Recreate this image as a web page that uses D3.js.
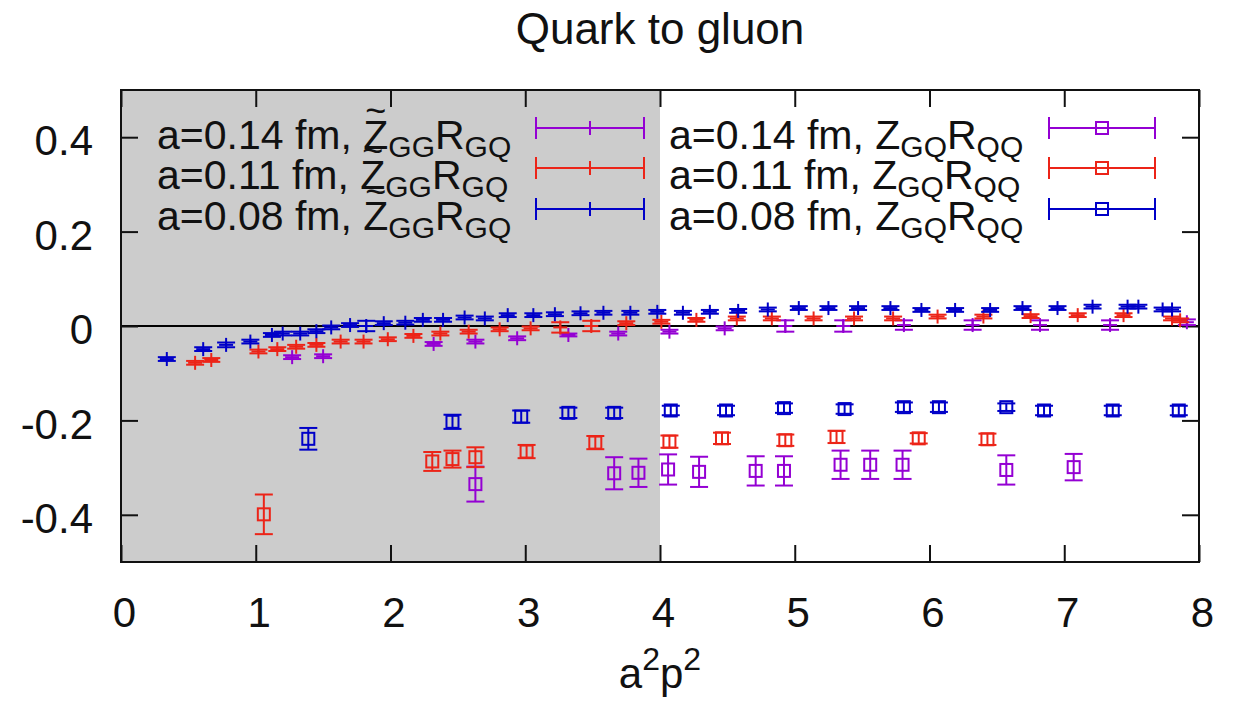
<!DOCTYPE html>
<html>
<head>
<meta charset="utf-8">
<script src="https://cdn.jsdelivr.net/npm/d3@7"></script>
<style>
	body { margin: 0; background: #ffffff; }
	text { font-family: "Liberation Sans", Arial, Helvetica, sans-serif; fill: #111111; }
</style>
</head>
<body>
<div id="vis1"></div>
<script>
// Quark to gluon mixing plot, gnuplot look

const FRAME_HEIGHT = 703;
const FRAME_WIDTH = 1249;
const MARGINS = {left: 121, right: 50, top: 90, bottom: 141};

const VIS_HEIGHT = FRAME_HEIGHT - MARGINS.top - MARGINS.bottom;
const VIS_WIDTH = FRAME_WIDTH - MARGINS.left - MARGINS.right;

// axes / ticks
const X_TICKS = [0, 1, 2, 3, 4, 5, 6, 7, 8];
const X_TICK_LABELS = ["0", "1", "2", "3", "4", "5", "6", "7", "8"];
const Y_TICKS = [-0.4, -0.2, 0, 0.2, 0.4];
const Y_TICK_LABELS = ["-0.4", "-0.2", "0", "0.2", "0.4"];
const SHADE_END = 4;

const SPACINGS = ["0.14", "0.11", "0.08"];

// Z~GG RGQ, "+" points
const PLUS_014_X = [1.27, 1.50, 2.32, 2.63, 2.94, 3.32, 3.69, 4.07, 4.48, 4.93, 5.36, 5.81, 6.32, 6.82, 7.34, 7.91];
const PLUS_014_Y = [-0.066, -0.064, -0.038, -0.033, -0.026, -0.019, -0.016, -0.012, -0.005, 0.000, 0.000, 0.002, 0.002, 0.002, 0.002, 0.008];
const PLUS_014_E = [0.004, 0.004, 0.004, 0.004, 0.004, 0.003, 0.004, 0.004, 0.004, 0.012, 0.012, 0.010, 0.010, 0.010, 0.010, 0.006];

const PLUS_011_X = [0.55, 0.67, 1.02, 1.16, 1.30, 1.45, 1.63, 1.80, 1.98, 2.17, 2.37, 2.58, 2.81, 3.04, 3.26, 3.49, 3.75, 4.01, 4.27, 4.57, 4.83, 5.14, 5.44, 5.73, 6.06, 6.40, 6.75, 7.10, 7.44, 7.80, 7.86];
const PLUS_011_Y = [-0.078, -0.072, -0.054, -0.049, -0.044, -0.040, -0.033, -0.033, -0.028, -0.021, -0.016, -0.012, -0.007, -0.005, -0.003, 0.000, 0.006, 0.009, 0.013, 0.016, 0.016, 0.016, 0.016, 0.016, 0.020, 0.020, 0.021, 0.023, 0.023, 0.016, 0.012];
const PLUS_011_E = [0.004, 0.004, 0.004, 0.004, 0.004, 0.004, 0.004, 0.004, 0.004, 0.004, 0.004, 0.004, 0.004, 0.004, 0.011, 0.011, 0.004, 0.004, 0.004, 0.004, 0.004, 0.004, 0.004, 0.004, 0.004, 0.004, 0.004, 0.004, 0.004, 0.004, 0.004];

const PLUS_008_X = [0.34, 0.61, 0.78, 0.96, 1.12, 1.20, 1.33, 1.45, 1.56, 1.70, 1.82, 1.95, 2.11, 2.24, 2.39, 2.55, 2.70, 2.87, 3.06, 3.22, 3.41, 3.58, 3.78, 3.98, 4.17, 4.37, 4.58, 4.80, 5.03, 5.25, 5.47, 5.71, 5.94, 6.19, 6.45, 6.69, 6.95, 7.21, 7.47, 7.55, 7.73, 7.80];
const PLUS_008_Y = [-0.070, -0.049, -0.040, -0.033, -0.019, -0.016, -0.016, -0.011, -0.003, 0.002, 0.000, 0.006, 0.007, 0.013, 0.013, 0.018, 0.016, 0.023, 0.023, 0.025, 0.027, 0.028, 0.028, 0.030, 0.028, 0.030, 0.032, 0.035, 0.038, 0.038, 0.038, 0.038, 0.034, 0.034, 0.034, 0.038, 0.038, 0.041, 0.041, 0.041, 0.035, 0.035];
const PLUS_008_E = [0.004, 0.004, 0.005, 0.004, 0.004, 0.004, 0.004, 0.004, 0.004, 0.004, 0.011, 0.004, 0.004, 0.004, 0.004, 0.004, 0.004, 0.004, 0.004, 0.004, 0.004, 0.004, 0.004, 0.004, 0.004, 0.004, 0.004, 0.004, 0.004, 0.004, 0.004, 0.004, 0.004, 0.004, 0.004, 0.004, 0.004, 0.004, 0.004, 0.004, 0.004, 0.004];

// ZGQ RQQ, square points
const SQ_014_X = [2.63, 3.66, 3.84, 4.06, 4.29, 4.71, 4.92, 5.34, 5.56, 5.80, 6.57, 7.07];
const SQ_014_Y = [-0.335, -0.312, -0.311, -0.304, -0.309, -0.307, -0.307, -0.294, -0.294, -0.294, -0.305, -0.299];
const SQ_014_E = [0.037, 0.034, 0.030, 0.032, 0.032, 0.031, 0.031, 0.030, 0.030, 0.030, 0.031, 0.028];

const SQ_011_X = [1.06, 2.31, 2.46, 2.63, 3.01, 3.52, 4.07, 4.46, 4.93, 5.31, 5.92, 6.43];
const SQ_011_Y = [-0.399, -0.287, -0.282, -0.278, -0.266, -0.247, -0.245, -0.238, -0.242, -0.235, -0.238, -0.240];
const SQ_011_E = [0.042, 0.020, 0.018, 0.021, 0.014, 0.014, 0.013, 0.012, 0.012, 0.013, 0.011, 0.012];

const SQ_008_X = [1.39, 2.46, 2.97, 3.32, 3.66, 4.08, 4.49, 4.92, 5.37, 5.81, 6.07, 6.57, 6.85, 7.36, 7.85];
const SQ_008_Y = [-0.239, -0.203, -0.192, -0.184, -0.184, -0.179, -0.179, -0.174, -0.176, -0.172, -0.172, -0.172, -0.179, -0.179, -0.179];
const SQ_008_E = [0.023, 0.015, 0.013, 0.011, 0.011, 0.010, 0.010, 0.010, 0.010, 0.010, 0.010, 0.008, 0.010, 0.010, 0.010];

const PURPLE = "#9400d3";
const RED = "#ec2418";
const BLUE = "#0000c8";

const LINE_W = 2;
const TICK_LEN = 17;
const CAP = 9;        // half width of errorbar caps
const PLUS_ARM = 7;
const SQ_HALF = 6;

// series table (order = gnuplot plot order)
const SERIES = [
	{x: PLUS_014_X, y: PLUS_014_Y, e: PLUS_014_E, color: PURPLE, mark: "plus"},
	{x: PLUS_011_X, y: PLUS_011_Y, e: PLUS_011_E, color: RED, mark: "plus"},
	{x: PLUS_008_X, y: PLUS_008_Y, e: PLUS_008_E, color: BLUE, mark: "plus"},
	{x: SQ_014_X, y: SQ_014_Y, e: SQ_014_E, color: PURPLE, mark: "square"},
	{x: SQ_011_X, y: SQ_011_Y, e: SQ_011_E, color: RED, mark: "square"},
	{x: SQ_008_X, y: SQ_008_Y, e: SQ_008_E, color: BLUE, mark: "square"}
];

// scales
const X_SCALE = d3.scaleLinear()
					.domain([0, 8])
					.range([0, VIS_WIDTH]);

const Y_SCALE = d3.scaleLinear()
					.domain([-0.5, 0.5])
					.range([VIS_HEIGHT, 0]);

const FRAME =
d3.select("#vis1")
	.append("svg")
		.attr("height", FRAME_HEIGHT)
		.attr("width", FRAME_WIDTH)
		.attr("class", "frame");

// title
FRAME.append("text")
		.attr("x", MARGINS.left + VIS_WIDTH / 2)
		.attr("y", 44)
		.attr("text-anchor", "middle")
		.style("font-size", "44px")
		.text("Quark to gluon");

const PLOT = FRAME.append("g")
		.attr("transform", "translate(" + MARGINS.left + "," + MARGINS.top + ")");

// shaded region a^2p^2 < 4
PLOT.append("rect")
		.attr("x", X_SCALE(0))
		.attr("y", 0)
		.attr("width", X_SCALE(SHADE_END) - X_SCALE(0))
		.attr("height", VIS_HEIGHT)
		.attr("fill", "#cccccc");

// zero line
PLOT.append("line")
		.attr("x1", X_SCALE(0))
		.attr("x2", X_SCALE(8))
		.attr("y1", Y_SCALE(0))
		.attr("y2", Y_SCALE(0))
		.attr("stroke", "#000")
		.attr("stroke-width", LINE_W);

// axes, ticks pointing inwards on all four sides
function styleAxis(g) {
	g.select(".domain").remove();
	g.selectAll(".tick line").attr("stroke", "#111").attr("stroke-width", LINE_W);
	g.selectAll(".tick text")
		.style("font-size", "42px")
		.attr("fill", "#111");
}

PLOT.append("g")
		.attr("transform", "translate(0," + VIS_HEIGHT + ")")
		.call(d3.axisBottom(X_SCALE).tickValues(X_TICKS).tickSize(-TICK_LEN)
				.tickFormat((d, i) => X_TICK_LABELS[i]))
		.call(styleAxis)
		.selectAll(".tick text")
			.attr("y", 65)
			.attr("dy", 0)
			.attr("x", 3);

PLOT.append("g")
		.call(d3.axisTop(X_SCALE).tickValues(X_TICKS).tickSize(-TICK_LEN).tickFormat(""))
		.call(styleAxis);

PLOT.append("g")
		.call(d3.axisLeft(Y_SCALE).tickValues(Y_TICKS).tickSize(-TICK_LEN).tickPadding(28)
				.tickFormat((d, i) => Y_TICK_LABELS[i]))
		.call(styleAxis)
		.selectAll(".tick text")
			.attr("dy", "0.42em");

PLOT.append("g")
		.attr("transform", "translate(" + VIS_WIDTH + ",0)")
		.call(d3.axisRight(Y_SCALE).tickValues(Y_TICKS).tickSize(-TICK_LEN).tickFormat(""))
		.call(styleAxis);

// x label a^2p^2
const XLAB = FRAME.append("text")
		.attr("x", MARGINS.left + VIS_WIDTH / 2)
		.attr("y", 688)
		.attr("text-anchor", "middle")
		.style("font-size", "42px");
XLAB.append("tspan").text("a");
XLAB.append("tspan").attr("dy", -18).style("font-size", "32px").text("2");
XLAB.append("tspan").attr("dy", 18).text("p");
XLAB.append("tspan").attr("dy", -18).style("font-size", "32px").text("2");

// marker helpers
function drawMarker(sel, mark) {
	if (mark === "plus") {
		sel.append("line").attr("x1", -PLUS_ARM).attr("x2", PLUS_ARM).attr("y1", 0).attr("y2", 0);
		sel.append("line").attr("x1", 0).attr("x2", 0).attr("y1", -PLUS_ARM).attr("y2", PLUS_ARM);
	} else {
		sel.append("rect")
			.attr("x", -SQ_HALF).attr("y", -SQ_HALF)
			.attr("width", 2 * SQ_HALF).attr("height", 2 * SQ_HALF);
	}
}

// data with y errorbars
SERIES.forEach((s) => {
	const pts = s.x.map((x, i) => ({x: x, y: s.y[i], e: s.e[i]}));
	const g = PLOT.append("g")
		.attr("stroke", s.color)
		.attr("stroke-width", LINE_W)
		.attr("fill", "none");

	const pt = g.selectAll(".pt")
		.data(pts)
		.enter()
		.append("g")
			.attr("class", "pt")
			.attr("transform", (d) => "translate(" + X_SCALE(d.x) + ",0)");

	pt.append("line")
		.attr("x1", 0).attr("x2", 0)
		.attr("y1", (d) => Y_SCALE(d.y - d.e))
		.attr("y2", (d) => Y_SCALE(d.y + d.e));
	pt.append("line")
		.attr("x1", -CAP).attr("x2", CAP)
		.attr("y1", (d) => Y_SCALE(d.y - d.e))
		.attr("y2", (d) => Y_SCALE(d.y - d.e));
	pt.append("line")
		.attr("x1", -CAP).attr("x2", CAP)
		.attr("y1", (d) => Y_SCALE(d.y + d.e))
		.attr("y2", (d) => Y_SCALE(d.y + d.e));

	pt.append("g")
		.attr("transform", (d) => "translate(0," + Y_SCALE(d.y) + ")")
		.call(drawMarker, s.mark);
});

// frame border
PLOT.append("rect")
		.attr("x", 0)
		.attr("y", 0)
		.attr("width", VIS_WIDTH)
		.attr("height", VIS_HEIGHT)
		.attr("fill", "none")
		.attr("stroke", "#111")
		.attr("stroke-width", LINE_W);

// legend
const LEG_ROWS = [128, 168, 209];
const LEG_COLS = [
	{textX: 157, lineX1: 536, lineX2: 644, z: "Z", zs: "GG", tilde: true, r: "R", rs: "GQ", first: 0},
	{textX: 669, lineX1: 1049, lineX2: 1155, z: "Z", zs: "GQ", tilde: false, r: "R", rs: "QQ", first: 3}
];
const SUB_DY = 8;
const TILDE_DY = -26;

LEG_COLS.forEach((c) => {
	SPACINGS.forEach((sp, i) => {
		const s = SERIES[c.first + i];
		const yc = LEG_ROWS[i];
		const base = yc + 21;

		const t = FRAME.append("text")
				.attr("x", c.textX)
				.attr("y", base)
				.style("font-size", "41px");
		const head = "a=" + sp + " fm, " + c.z;
		t.append("tspan").text(head);

		// tilde sits over the Z, inside the same text element
		let tld = null;
		if (c.tilde) {
			tld = t.append("tspan").attr("dy", TILDE_DY).style("font-size", "36px").text("~");
		}
		const sub = t.append("tspan")
				.attr("dy", c.tilde ? SUB_DY - TILDE_DY : SUB_DY)
				.style("font-size", "30px")
				.text(c.zs);
		t.append("tspan").attr("dy", -SUB_DY).text(c.r);
		t.append("tspan").attr("dy", SUB_DY).style("font-size", "30px").text(c.rs);

		if (tld) {
			const node = t.node();
			const zBox = node.getExtentOfChar(head.length - 1);
			const tBox = node.getExtentOfChar(head.length);
			tld.attr("dx", -(zBox.width / 2 + tBox.width / 2));
			sub.attr("dx", zBox.width / 2 - tBox.width / 2);
		}

		const g = FRAME.append("g")
				.attr("stroke", s.color)
				.attr("stroke-width", LINE_W)
				.attr("fill", "none");
		g.append("line").attr("x1", c.lineX1).attr("x2", c.lineX2).attr("y1", yc).attr("y2", yc);
		g.append("line").attr("x1", c.lineX1).attr("x2", c.lineX1).attr("y1", yc - 11).attr("y2", yc + 11);
		g.append("line").attr("x1", c.lineX2).attr("x2", c.lineX2).attr("y1", yc - 11).attr("y2", yc + 11);
		g.append("g")
			.attr("transform", "translate(" + (c.lineX1 + c.lineX2) / 2 + "," + yc + ")")
			.call(drawMarker, s.mark);
	});
});
</script>
</body>
</html>
